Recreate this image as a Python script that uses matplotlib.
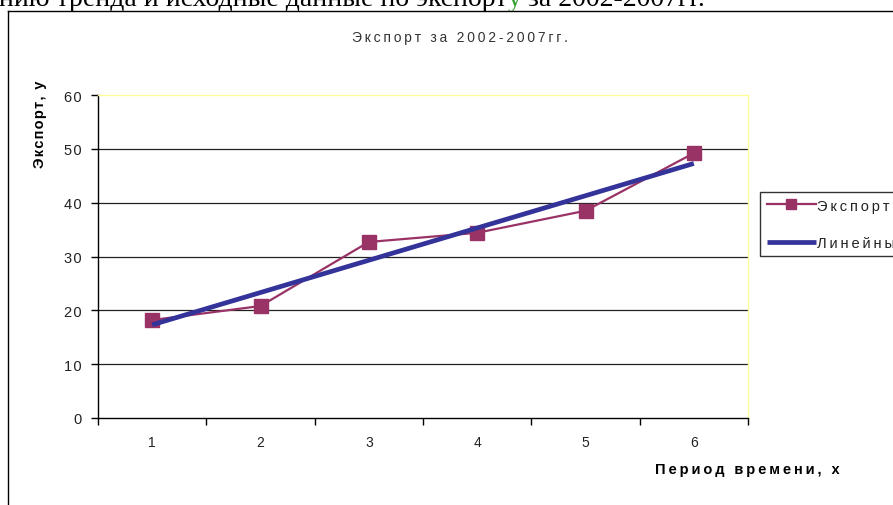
import numpy as np
import matplotlib
matplotlib.use("Agg")
import matplotlib.pyplot as plt
from matplotlib.lines import Line2D

periods = [1, 2, 3, 4, 5, 6]
export = [18.2, 20.8, 32.7, 34.4, 38.5, 49.2]
y_ticks = [0, 10, 20, 30, 40, 50, 60]

title = "Экспорт за 2002-2007гг."
ylabel = "Экспорт, у"
xlabel = "Период времени, х"
series_label = "Экспорт"
trend_label = "Линейный (Экспорт)"
doc_text_a = "линию тренда и исходные данные по экспорт"
doc_text_b = "у"
doc_text_c = " за 2002-2007гг."

plt.rcParams['font.family'] = ['Liberation Sans', 'DejaVu Sans']

THIN = "\u2009"
HAIR = "\u200a"


def spaced(s, sep):
    return sep.join(s)


fig = plt.figure(figsize=(8.93, 5.06), dpi=100)
W, H = 893, 506


def fx(px):
    return px / W


def fy(py):
    return (H - py) / H


# Chart border
fig.add_artist(Line2D([fx(8), fx(8)], [fy(12), 0], color='black', lw=1.0, transform=fig.transFigure))
fig.add_artist(Line2D([fx(8), 1.0], [fy(12), fy(12)], color='black', lw=1.0, transform=fig.transFigure))

ax = fig.add_axes([fx(98), fy(419), fx(748) - fx(98), fy(96) - fy(419)])
ax.set_facecolor('white')

# Top cut-off document text
serif = ['Liberation Serif', 'DejaVu Serif']
t1 = fig.text(fx(-30), fy(6), doc_text_a, family=serif, fontsize=20, va='baseline', ha='left')
a2 = ax.annotate(doc_text_b, xy=(1, 0), xycoords=t1, va='bottom', ha='left',
                 family=serif, fontsize=20, color='#2E9E2E', annotation_clip=False)
a3 = ax.annotate(doc_text_c, xy=(1, 0), xycoords=a2, va='bottom', ha='left',
                 family=serif, fontsize=20, color='black', annotation_clip=False)

# trend line (least squares, as Excel)
coef = np.polyfit(periods, export, 1)
trend = np.polyval(coef, periods)

ax.set_xlim(0.5, 6.5)
ax.set_ylim(0, 60)
ax.set_yticks(y_ticks)
ax.set_yticklabels([spaced(str(v), HAIR) for v in y_ticks])
ax.set_xticks(periods)
ax.set_xticklabels([str(p) for p in periods])
ax.set_xticks(np.arange(0.5, 6.6, 1.0), minor=True)
ax.tick_params(axis='x', which='major', length=0, pad=12, labelsize=10)
ax.tick_params(axis='x', which='minor', length=5, width=1, color='black', direction='out')
ax.tick_params(axis='y', length=5, width=1, direction='out', labelsize=10.5, pad=7)
for lab in ax.get_xticklabels() + ax.get_yticklabels():
    lab.set_color('#222222')

for v in y_ticks[1:-1]:
    ax.axhline(v, color='#222222', lw=0.9, zorder=1)

ax.spines['left'].set_color('black')
ax.spines['bottom'].set_color('black')
ax.spines['top'].set_color('#FFFF99')
ax.spines['right'].set_color('#FFFF99')
for s in ax.spines.values():
    s.set_linewidth(1.0)

ln1, = ax.plot(periods, export, color='#993366', lw=1.6, marker='s', markersize=10,
               markerfacecolor='#993366', markeredgecolor='#993366', zorder=3,
               label=spaced(series_label, THIN))
ln2, = ax.plot([periods[0], periods[-1]], [trend[0], trend[-1]], color='#333399', lw=3.4,
               zorder=4, label=spaced(trend_label, THIN), solid_capstyle='butt')

fig.text(fx(460), fy(38), spaced(title, THIN), ha='center', va='center', fontsize=10, color='#333333')
fig.text(fx(40), fy(124), spaced(ylabel, HAIR), rotation=90, ha='center', va='center', fontsize=10.5,
         fontweight='bold', color='black')
fig.text(fx(747), fy(470), spaced(xlabel, THIN), ha='center', va='center', fontsize=10.5,
         fontweight='bold', color='black')

leg = fig.legend(handles=[ln1, ln2], loc='upper left', bbox_to_anchor=(fx(760), fy(193)),
                 bbox_transform=fig.transFigure, borderaxespad=0, frameon=True, fancybox=False,
                 edgecolor='black', fontsize=10.5, handlelength=3.4, handletextpad=0.05,
                 labelspacing=1.6, borderpad=0.45, markerscale=0.75)
leg.get_frame().set_linewidth(1.0)
for t in leg.get_texts():
    t.set_color('#222222')

fig.savefig("out.png", dpi=100)
